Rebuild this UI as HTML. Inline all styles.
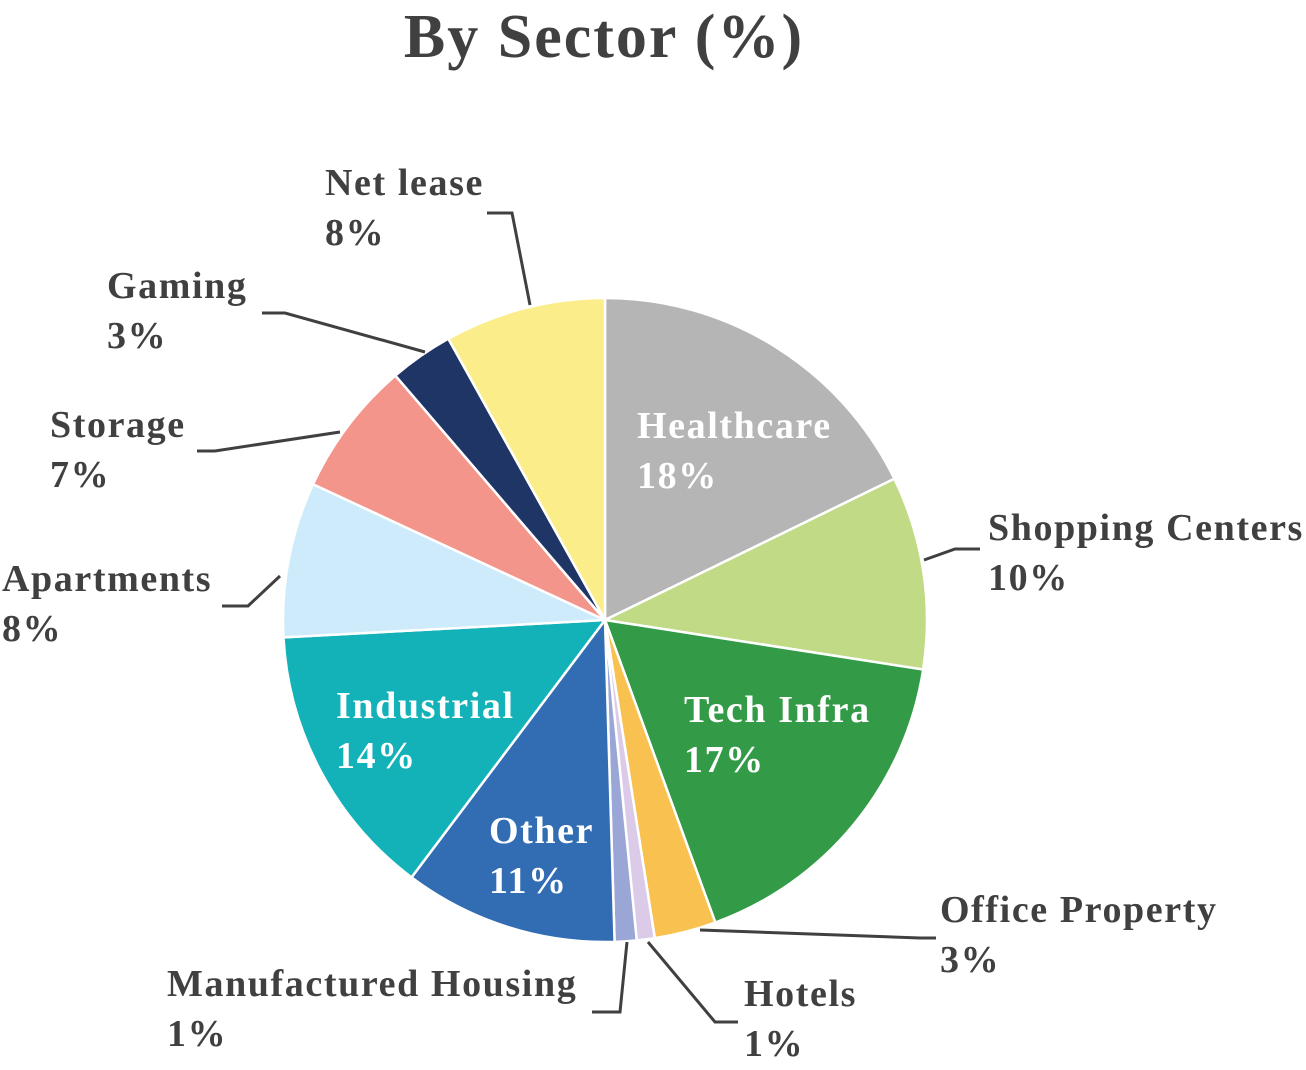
<!DOCTYPE html>
<html><head><meta charset="utf-8"><style>
html,body{margin:0;padding:0;background:#fff;}
svg{display:block;}
text{font-family:"Liberation Serif",serif;font-weight:bold;}
</style></head><body>
<svg width="1306" height="1070" viewBox="0 0 1306 1070">
<text x="604" y="57" text-anchor="middle" font-size="62" letter-spacing="2" fill="#404040">By Sector (%)</text>
<g id="slices"></g>
<g id="leaders" fill="none" stroke="#404040" stroke-width="3"></g>
<g id="labels"></g>
</svg>
<script>
const categories=["Healthcare","Shopping Centers","Tech Infra","Office Property","Hotels","Manufactured Housing","Other","Industrial","Apartments","Storage","Gaming","Net lease"];
const values=[17.8,9.7,17,3.1,0.9,1.1,10.75,13.9,7.8,6.8,3.2,8.1];
const printed=["18%","10%","17%","3%","1%","1%","11%","14%","8%","7%","3%","8%"];
const colors=["#b5b5b5","#c0da86","#339a47","#f8c150","#dccbe8","#9aa6d6","#326db4","#13b2b8","#cdebfa","#f4958b","#1f3566","#fbee8a"];
const cx=605,cy=620,R=322;
const ns="http://www.w3.org/2000/svg";
const total=values.reduce((a,b)=>a+b,0);
function pt(a,r){return [cx+r*Math.sin(a),cy-r*Math.cos(a)];}
let acc=0;
const sl=document.getElementById('slices');
values.forEach((v,i)=>{
  const a0=acc/total*2*Math.PI;acc+=v;const a1=acc/total*2*Math.PI;
  const p0=pt(a0,R),p1=pt(a1,R);
  const p=document.createElementNS(ns,'path');
  p.setAttribute('d',`M${cx},${cy}L${p0[0]},${p0[1]}A${R},${R} 0 ${a1-a0>Math.PI?1:0} 1 ${p1[0]},${p1[1]}Z`);
  p.setAttribute('fill',colors[i]);p.setAttribute('stroke','#fff');p.setAttribute('stroke-width','2.5');
  
  
  sl.appendChild(p);
});
const lab=[
 [637,438,'#fff'],[988,540,'#404040'],[684,722,'#fff'],[940,922,'#404040'],
 [744,1006,'#404040'],[167,996,'#404040'],[489,843,'#fff'],[336,718,'#fff'],
 [2,591,'#404040'],[50,437,'#404040'],[107,298,'#404040'],[325,195,'#404040']];
const lg=document.getElementById('labels');
categories.forEach((c,i)=>{
  const [x,y,f]=lab[i];
  const t=document.createElementNS(ns,'text');
  t.setAttribute('x',x);t.setAttribute('y',y);t.setAttribute('font-size','38');t.setAttribute('letter-spacing','1.6');t.setAttribute('fill',f);
  
  
  const s1=document.createElementNS(ns,'tspan');s1.setAttribute('x',x);s1.textContent=c;
  const s2=document.createElementNS(ns,'tspan');s2.setAttribute('x',x);s2.setAttribute('dy','50');s2.textContent=printed[i];
  t.appendChild(s1);t.appendChild(s2);lg.appendChild(t);
});
const leaders=["924,560 955,549 980,549","700,930 920,938 936,938","648,942 715,1022 738,1022","627,942 620,1012 592,1012",
"280,576 248,606 222,606","340,432 215,451 197,451","425,352 285,313 262,313","530,305 512,213 487,213"];
const ld=document.getElementById('leaders');
leaders.forEach(p=>{const l=document.createElementNS(ns,'polyline');l.setAttribute('points',p);


ld.appendChild(l);});
</script>
</body></html>
